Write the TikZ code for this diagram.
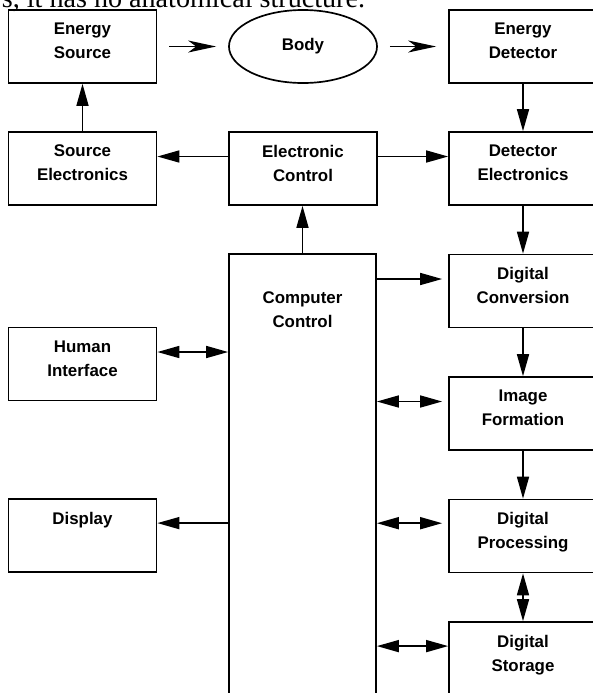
\documentclass[tikz,border=0pt]{standalone}
\usepackage{fontspec}
\setmainfont{Liberation Serif}
\newfontfamily\arialfont{Liberation Sans}
\usepackage{tikz}
\usetikzlibrary{positioning, arrows.meta, shapes.geometric}

\begin{document}
\begin{tikzpicture}[x=0.025cm, y=-0.025cm, line width=1.2pt,
    box/.style={draw, rectangle, minimum width=3.7cm, minimum height=1.825cm, inner sep=0pt},
    lbl/.style={align=center, inner sep=0pt, font=\arialfont\bfseries\fontsize{12}{17}\selectfont},
    arr/.style={-{Triangle[length=0.55cm, width=0.3cm]}},
    darr/.style={{Triangle[length=0.55cm, width=0.3cm]}-{Triangle[length=0.55cm, width=0.3cm]}},
    sarr/.style={-{Stealth[length=0.7cm, width=0.3cm, inset=0.2cm]}, shorten <=0.3cm, shorten >=0.3cm}]

    % Page crop
    \useasboundingbox (0,0) rectangle (593,693);
    \clip (0,0) rectangle (593,693);
    \node[anchor=base west, inner sep=0pt, font=\fontsize{20}{24}\selectfont] (cap) at (1,7.5) {s, it has no anatomical structure.};

    % Top row
    \node[box] (esrc) at (82.5,46.5) {};
    \node[lbl, below=0.325cm of esrc.north] (esrct) {Energy\\Source};
    \node[draw, ellipse, minimum width=3.7cm, minimum height=1.825cm, lbl] (body) at (303,46.5) {Body};
    \node[box] (edet) at (523,46.5) {};
    \node[lbl, below=0.325cm of edet.north] (edett) {Energy\\Detector};

    % Second row
    \node[box] (srcel) at (82.5,168.5) {};
    \node[lbl, below=0.325cm of srcel.north] (srcelt) {Source\\Electronics};
    \node[box] (ectl) at (303,168.5) {};
    \node[lbl, below=0.325cm of ectl.north] (ectlt) {Electronic\\Control};
    \node[box] (detel) at (523,168.5) {};
    \node[lbl, below=0.325cm of detel.north] (detelt) {Detector\\Electronics};

    % Computer control
    \node[box, minimum width=3.675cm, minimum height=12.65cm] (cc) at (302.5,507) {};
    \node[lbl, below=0.95cm of cc.north] (cct) {Computer\\Control};

    % Left column
    \node[box] (hi) at (82.5,364) {};
    \node[lbl, below=0.325cm of hi.north] (hit) {Human\\Interface};
    \node[box] (disp) at (82.5,535.5) {};
    \node[lbl, below=0.325cm of disp.north] (dispt) {Display};

    % Right column
    \node[box] (dconv) at (523,291) {};
    \node[lbl, below=0.325cm of dconv.north] (dconvt) {Digital\\Conversion};
    \node[box] (imgf) at (523,413.5) {};
    \node[lbl, below=0.325cm of imgf.north] (imgft) {Image\\Formation};
    \node[box] (dproc) at (523,536) {};
    \node[lbl, below=0.325cm of dproc.north] (dproct) {Digital\\Processing};
    \node[box] (dstor) at (523,658.5) {};
    \node[lbl, below=0.325cm of dstor.north] (dstort) {Digital\\Storage};

    % Signal path
    \draw[sarr] (esrc) -- (body);
    \draw[sarr] (body) -- (edet);
    \draw[arr] (srcel) -- (esrc);
    \draw[arr] (edet) -- (detel);
    \draw[arr] ([yshift=0.3cm]ectl.west) -- ([yshift=0.3cm]srcel.east);
    \draw[arr] ([yshift=0.3cm]ectl.east) -- ([yshift=0.3cm]detel.west);
    \draw[arr] (cc.north) -- (cc.north |- ectl.south);
    \draw[arr] (detel) -- (dconv);
    \draw[arr] (dconv) -- (imgf);
    \draw[arr] (imgf) -- (dproc);
    \draw[darr] (dproc) -- (dstor);

    % Links with computer control
    \draw[darr] ([yshift=0.3cm]hi.east) -- ([yshift=0.3cm]hi.east -| cc.west);
    \draw[arr] ([yshift=0.31cm]disp.east -| cc.west) -- ([yshift=0.31cm]disp.east);
    \draw[arr, shorten >=0.15cm] ([yshift=0.3cm]dconv.west -| cc.east) -- ([yshift=0.3cm]dconv.west);
    \draw[darr, shorten >=0.15cm] ([yshift=0.3cm]imgf.west -| cc.east) -- ([yshift=0.3cm]imgf.west);
    \draw[darr, shorten >=0.15cm] ([yshift=0.32cm]dproc.west -| cc.east) -- ([yshift=0.32cm]dproc.west);
    \draw[darr] ([yshift=0.31cm]dstor.west -| cc.east) -- ([yshift=0.31cm]dstor.west);
\end{tikzpicture}
\end{document}
